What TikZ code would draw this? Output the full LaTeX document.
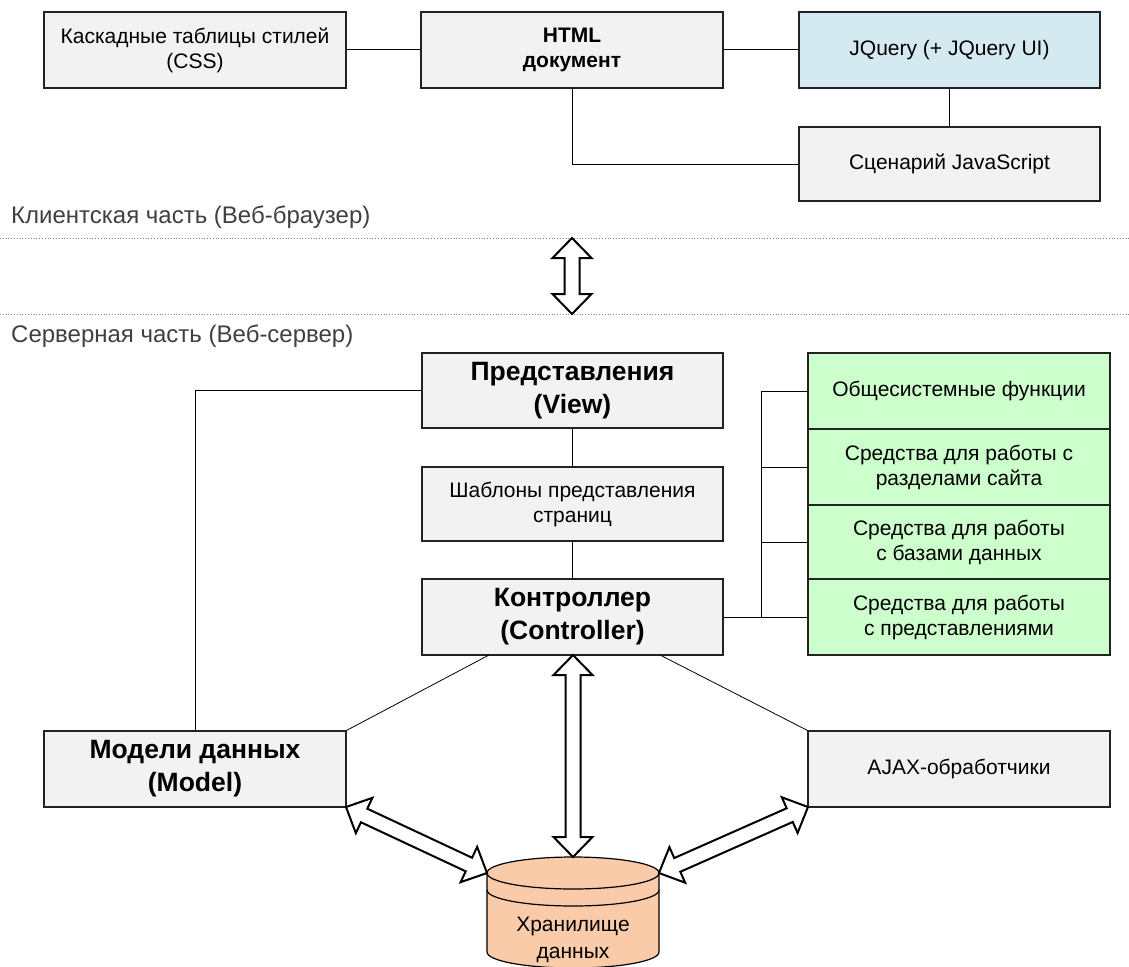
\documentclass[tikz,border=0pt]{standalone}
\usepackage{fontspec}
\setmainfont{Liberation Sans}
\usetikzlibrary{calc}
\definecolor{boxgray}{HTML}{F2F2F2}
\definecolor{jqblue}{HTML}{D5EAF0}
\definecolor{lgreen}{HTML}{CCFFCC}
\definecolor{peach}{HTML}{F9CBA8}
\definecolor{headgray}{HTML}{404040}
\definecolor{edge}{HTML}{222222}
\newcommand{\blockarrow}[2]{%
 \draw[barrow] (#1) -- ($(#1)!20pt!(#2)!19.5pt!90:(#2)$) -- ($(#1)!20pt!(#2)!7.5pt!90:(#2)$)
  -- ($(#2)!20pt!(#1)!7.5pt!-90:(#1)$) -- ($(#2)!20pt!(#1)!19.5pt!-90:(#1)$) -- (#2)
  -- ($(#2)!20pt!(#1)!19.5pt!90:(#1)$) -- ($(#2)!20pt!(#1)!7.5pt!90:(#1)$)
  -- ($(#1)!20pt!(#2)!7.5pt!-90:(#2)$) -- ($(#1)!20pt!(#2)!19.5pt!-90:(#2)$) -- cycle;}
\tikzset{
  box/.style={draw=edge, line width=1.2pt, fill=boxgray, rectangle, inner sep=0pt,
    minimum width=302pt, minimum height=76pt, align=center,
    font=\fontsize{21}{25}\selectfont},
  bigbold/.style={font=\fontsize{26.5}{33}\selectfont\bfseries},
  smallbold/.style={font=\fontsize{21}{25}\selectfont\bfseries},
  conn/.style={draw=black, line width=1pt},
  thinconn/.style={draw=black, line width=0.8pt},
  barrow/.style={draw=black, line width=2pt, fill=white, line join=miter},
  sep/.style={draw=gray, line width=0.8pt, dotted},
  heading/.style={anchor=west, text=headgray, inner sep=0pt, font=\fontsize{24}{28}\selectfont}
}
\begin{document}
\begin{tikzpicture}[x=1pt, y=-1pt]
\useasboundingbox (0,0) rectangle (1129,966);
\fill[white] (0,0) rectangle (1129,966);

% client side
\node[box] (css) at (195,50) {Каскадные таблицы стилей\\(CSS)};
\node[box, smallbold] (html) at (572,50) {HTML\\документ};
\node[box, fill=jqblue, minimum width=301pt] (jq) at (949.5,50) {JQuery (+ JQuery UI)};
\node[box, minimum width=301pt, minimum height=74pt] (js) at (949.5,164) {Сценарий JavaScript};
\draw[conn] (css.east) -- (html.west);
\draw[conn] (html.east) -- (jq.west);
\draw[conn] (jq.south) -- (js.north);
\draw[conn] (html.south) |- (js.west);

% separators and headings
\node[heading] (client) at (11,217) {Клиентская часть (Веб-браузер)};
\node[heading] (server) at (11,336) {Серверная часть (Веб-сервер)};
\coordinate (s1l) at (0,238);
\coordinate (s1r) at (1129,238);
\coordinate (s2l) at (0,314);
\coordinate (s2r) at (1129,314);
\draw[sep] (s1l) -- (s1r);
\draw[sep] (s2l) -- (s2r);
\coordinate (mtop) at (572,238);
\coordinate (mbot) at (572,314);
\blockarrow{mtop}{mbot}

% server side
\node[box, minimum width=301pt, minimum height=75pt, bigbold] (view) at (572.5,390.5) {Представления\\(View)};
\node[box, minimum width=301pt, minimum height=74pt] (tpl) at (572.5,504) {Шаблоны представления\\страниц};
\node[box, minimum width=301pt, bigbold] (ctrl) at (572.5,617) {Контроллер\\(Controller)};
\draw[conn] (view.south) -- (tpl.north);
\draw[conn] (tpl.south) -- (ctrl.north);

\node[box, fill=lgreen, minimum height=76pt] (g1) at (959,391) {Общесистемные функции};
\node[box, fill=lgreen, minimum height=76pt] (g2) at (959,467) {Средства для работы с\\разделами сайта};
\node[box, fill=lgreen, minimum height=74pt] (g3) at (959,542) {Средства для работы\\с базами данных};
\node[box, fill=lgreen, minimum height=76pt] (g4) at (959,617) {Средства для работы\\с представлениями};
\coordinate (bus) at (761,617);
\draw[conn] (ctrl.east) -- (g4.west);
\draw[conn] (bus) |- (g1.west);
\draw[conn] (bus |- g2.west) -- (g2.west);
\draw[conn] (bus |- g3.west) -- (g3.west);

\node[box, bigbold] (model) at (195,769) {Модели данных\\(Model)};
\node[box] (ajax) at (959,769) {AJAX-обработчики};
\draw[conn] (view.west) -| (model.north);
\coordinate (cl) at (489,655);
\coordinate (cr) at (660,655);
\draw[thinconn] (cl) -- (model.north east);
\draw[thinconn] (cr) -- (ajax.north west);

% data store cylinder
\fill[peach, draw=black, line width=1.2pt] (487,873) -- (487,952)
  arc[start angle=180, end angle=360, x radius=86pt, y radius=16pt] -- (659,873)
  arc[start angle=0, end angle=180, x radius=86pt, y radius=16pt] -- cycle;
\draw[black, line width=1.2pt] (487,873) arc[start angle=180, end angle=360, x radius=86pt, y radius=16pt];
\draw[black, line width=1.2pt] (487,890) arc[start angle=180, end angle=360, x radius=86pt, y radius=16pt];
\node[align=center, inner sep=0pt, font=\fontsize{21}{27}\selectfont] (store) at (573,940) {Хранилище\\данных};
\coordinate (cyltop) at (573,857);
\coordinate (cylleft) at (487,873);
\coordinate (cylright) at (659,873);
\coordinate (ctrlbot) at (573,655);
\coordinate (modelc) at (346,807);
\coordinate (ajaxc) at (808,807);
\blockarrow{ctrlbot}{cyltop}
\blockarrow{modelc}{cylleft}
\blockarrow{ajaxc}{cylright}
\end{tikzpicture}
\end{document}
